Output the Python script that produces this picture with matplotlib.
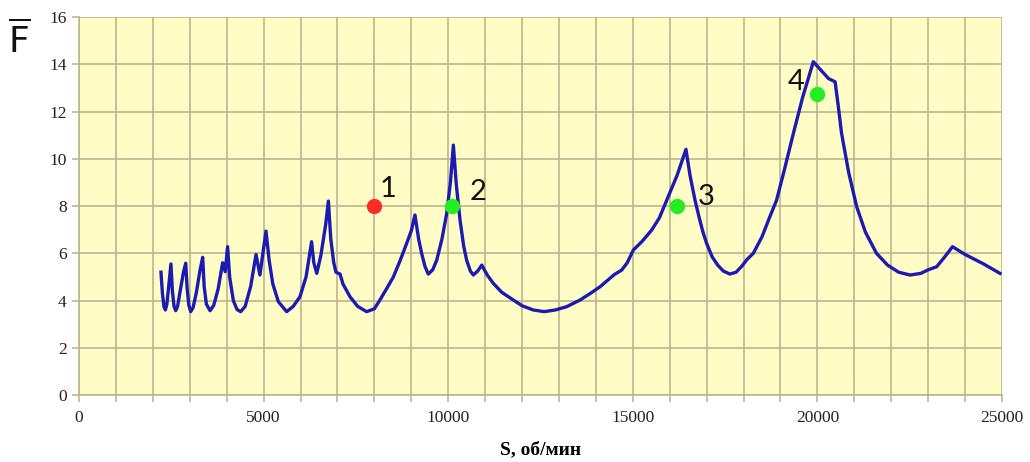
#!/usr/bin/env python3
"""Resonance curve F(S) with four operating points."""

import matplotlib

matplotlib.use("Agg")
import matplotlib.pyplot as plt
from matplotlib.ticker import MultipleLocator

# curve: spindle speed, rpm / relative force
S_RPM = [
    2220, 2260, 2300, 2340, 2380, 2430, 2490, 2530, 2575, 2620,
    2670, 2740, 2830, 2890, 2930, 2975, 3025, 3090, 3180, 3280,
    3350, 3390, 3450, 3550, 3650, 3770, 3890, 3960, 4025, 4080,
    4180, 4280, 4380, 4500, 4650, 4795, 4900, 5065, 5150, 5250,
    5400, 5625, 5800, 5985, 6150, 6300, 6360, 6440, 6550, 6680,
    6755, 6820, 6900, 6960, 7070, 7150, 7340, 7550, 7790, 8000,
    8150, 8350, 8515, 8700, 8875, 9000, 9100, 9200, 9280, 9370,
    9460, 9580, 9690, 9830, 9960, 10060, 10140, 10220, 10320, 10420,
    10500, 10600, 10680, 10800, 10910, 11050, 11220, 11450, 11765, 12000,
    12305, 12600, 12900, 13210, 13570, 13850, 14110, 14350, 14500, 14700,
    14850, 15015, 15250, 15510, 15720, 15920, 16200, 16440, 16550, 16685,
    16800, 16900, 17000, 17150, 17300, 17450, 17630, 17800, 17950, 18100,
    18265, 18500, 18700, 18895, 19100, 19350, 19600, 19890, 20300, 20480,
    20560, 20655, 20850, 21065, 21300, 21600, 21900, 22200, 22510, 22800,
    23000, 23230, 23450, 23660, 24000, 24500, 24945,
]
F_REL = [
    5.20, 4.30, 3.75, 3.60, 3.85, 4.60, 5.55, 4.40, 3.75, 3.57,
    3.75, 4.40, 5.20, 5.58, 4.50, 3.80, 3.53, 3.70, 4.35, 5.30,
    5.83, 4.60, 3.85, 3.57, 3.80, 4.50, 5.60, 5.22, 6.28, 5.00,
    4.00, 3.62, 3.53, 3.75, 4.60, 5.95, 5.08, 6.94, 5.70, 4.70,
    3.95, 3.53, 3.75, 4.16, 5.00, 6.49, 5.60, 5.15, 5.90, 7.20,
    8.21, 6.60, 5.60, 5.20, 5.12, 4.70, 4.16, 3.75, 3.53, 3.65,
    4.02, 4.55, 5.00, 5.70, 6.42, 6.95, 7.62, 6.60, 6.00, 5.45,
    5.12, 5.30, 5.71, 6.60, 7.69, 9.00, 10.58, 8.90, 7.41, 6.30,
    5.71, 5.25, 5.08, 5.25, 5.50, 5.10, 4.73, 4.35, 4.02, 3.78,
    3.60, 3.53, 3.60, 3.74, 4.02, 4.30, 4.58, 4.90, 5.10, 5.29,
    5.60, 6.14, 6.50, 6.98, 7.50, 8.25, 9.30, 10.40, 9.30, 8.25,
    7.50, 6.90, 6.42, 5.85, 5.50, 5.25, 5.12, 5.20, 5.45, 5.75,
    6.00, 6.70, 7.50, 8.25, 9.50, 11.08, 12.60, 14.11, 13.40, 13.26,
    12.30, 11.08, 9.40, 7.97, 6.90, 6.00, 5.50, 5.20, 5.08, 5.15,
    5.30, 5.43, 5.85, 6.28, 5.95, 5.55, 5.15,
]

# marked operating points
POINT_S = [8000, 10100, 16200, 20000]
POINT_F = [8.0, 8.0, 8.0, 12.75]
POINT_COLORS = ["#ff2a2a", "#22ee22", "#22ee22", "#22ee22"]
POINT_LABELS = ["1", "2", "3", "4"]
LABEL_OFFSETS = [(10, 3), (19, 1), (21, -3), (-15, -1)]

GRID_COLOR = "#bdb68c"
SERIF = ["Liberation Serif", "DejaVu Serif"]


def main() -> None:
    fig = plt.figure(figsize=(10.3, 4.62), dpi=100)
    ax = fig.add_axes([0.0767, 0.145, 0.8961, 0.818])
    ax.set_facecolor("#fffcc6")

    ax.plot(S_RPM, F_REL, color="#1c1ab4", linewidth=2.4, solid_joinstyle="round", zorder=3)

    for s, f, c, lab, (dx, dy) in zip(POINT_S, POINT_F, POINT_COLORS, POINT_LABELS, LABEL_OFFSETS):
        ax.plot(s, f, "o", color=c, markersize=10, zorder=4)
        ax.annotate(lab, (s, f), xytext=(dx, dy), textcoords="offset points",
                    fontsize=21, family=["Lato", "DejaVu Sans"], color="#111111",
                    ha="center", va="bottom", zorder=5)

    ax.set_xlim(0, 25000)
    ax.set_ylim(0, 16)
    ax.xaxis.set_major_locator(MultipleLocator(5000))
    ax.xaxis.set_minor_locator(MultipleLocator(1000))
    ax.yaxis.set_major_locator(MultipleLocator(2))
    ax.grid(True, which="both", color=GRID_COLOR, linewidth=1.2, zorder=1)
    ax.set_axisbelow(True)

    for side in ["top", "right"]:
        ax.spines[side].set_visible(False)
    for side in ["left", "bottom"]:
        ax.spines[side].set_color(GRID_COLOR)
        ax.spines[side].set_linewidth(1.2)
    ax.tick_params(which="both", direction="out", length=5, color=GRID_COLOR, width=1.2)
    ax.tick_params(axis="x", pad=6)
    ax.tick_params(axis="y", pad=4)
    for lbl in ax.get_xticklabels() + ax.get_yticklabels():
        lbl.set_family(SERIF)
        lbl.set_fontsize(12.5)
        lbl.set_color("#222222")

    ax.set_xlabel("S, об/мин", family=SERIF, fontsize=14, fontweight="bold", labelpad=11)
    fig.text(0.008, 0.885, r"$\overline{\mathsf{F}}$", fontsize=26, color="#111111")

    fig.savefig("out.png", dpi=100)
    plt.close(fig)


if __name__ == "__main__":
    main()
